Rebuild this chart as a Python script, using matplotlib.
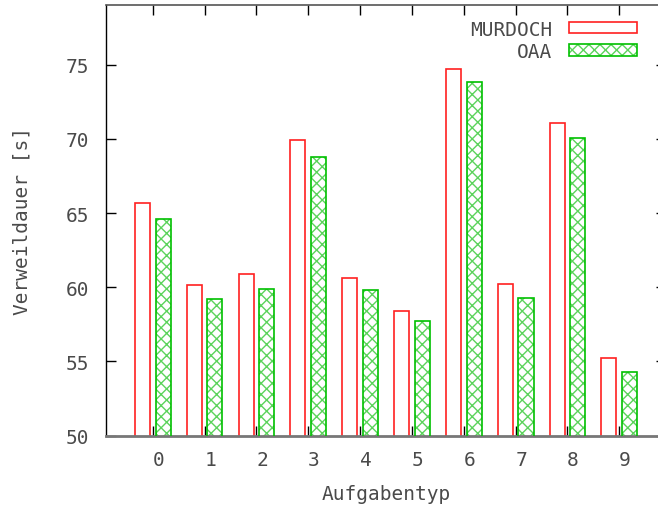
import matplotlib
matplotlib.use("Agg")
import matplotlib.pyplot as plt
import matplotlib.transforms as mtransforms
from matplotlib.patches import Patch
from matplotlib.legend_handler import HandlerTuple
import numpy as np

categories = ["0", "1", "2", "3", "4", "5", "6", "7", "8", "9"]
murdoch = [65.66, 60.18, 60.92, 69.91, 60.61, 58.38, 74.71, 60.24, 71.09, 55.26]
oaa = [64.62, 59.21, 59.89, 68.80, 59.82, 57.71, 73.84, 59.28, 70.04, 54.31]
series_names = ["MURDOCH", "OAA"]
yticks = [50, 55, 60, 65, 70, 75]

FONT = "DejaVu Sans Mono"
TXT = "#4a4a4a"
RED = "#ff2020"
GREEN = "#00c000"
HATCH = "#5cd35c"

plt.rcParams["font.family"] = [FONT]
plt.rcParams["hatch.linewidth"] = 1.0

W, H = 658, 510
fig = plt.figure(figsize=(W / 100, H / 100), dpi=100)
left_px, right_px, top_px, bottom_px = 106.3, 666.0, 5.7, 436.7
ax = fig.add_axes([left_px / W, 1 - bottom_px / H,
                   (right_px - left_px) / W, (bottom_px - top_px) / H])

x = np.arange(len(categories))
bw = 0.29
off = 0.2

ax.bar(x - off, murdoch, bw, facecolor="white", edgecolor=RED,
       linewidth=1.2, zorder=2)
ax.bar(x + off, oaa, bw, facecolor="white", edgecolor=HATCH, hatch="xxx",
       linewidth=0, zorder=2)
ax.bar(x + off, oaa, bw, facecolor="none", edgecolor=GREEN,
       linewidth=1.2, zorder=3)

ax.set_xlim(-0.895, 9.9)
ax.set_ylim(50, 79.04)

ax.set_xticks(x)
ax.set_xticklabels(categories)
ax.set_yticks(yticks)
ax.set_yticklabels([str(v) for v in yticks])

fs = 14
ax.tick_params(axis="both", direction="in", length=7.2, width=1.0,
               color="black", labelsize=fs, labelcolor=TXT,
               top=True, right=True, zorder=5)
ax.tick_params(axis="y", pad=12.2)
ax.tick_params(axis="x", pad=10.0)

shift = mtransforms.ScaledTranslation(5.6 / 100, 0, fig.dpi_scale_trans)
for lbl in ax.get_xticklabels():
    lbl.set_transform(lbl.get_transform() + shift)

ax.spines["left"].set_color("black")
ax.spines["left"].set_linewidth(1.0)
ax.spines["top"].set_color("#555555")
ax.spines["top"].set_linewidth(1.2)
ax.spines["bottom"].set_color("#777777")
ax.spines["bottom"].set_linewidth(2.0)
ax.spines["right"].set_color("#555555")

ax.set_xlabel("Aufgabentyp", fontsize=fs, color=TXT, labelpad=11)
ax.set_ylabel("Verweildauer [s]", fontsize=fs, color=TXT, labelpad=25)

h_red = Patch(facecolor="white", edgecolor=RED, linewidth=1.2)
h_g1 = Patch(facecolor="white", edgecolor=HATCH, hatch="xxx", linewidth=0)
h_g2 = Patch(facecolor="none", edgecolor=GREEN, linewidth=1.2)
leg = ax.legend([h_red, (h_g1, h_g2)], series_names,
                handler_map={tuple: HandlerTuple(ndivide=1, pad=0)},
                loc="upper right",
                bbox_to_anchor=(637.3 / W, 1 - 20.5 / H),
                bbox_transform=fig.transFigure,
                frameon=False, markerfirst=False, fontsize=fs,
                handlelength=3.5, handleheight=0.55, handletextpad=0.86,
                labelspacing=0.16, borderpad=0, borderaxespad=0)
for t in leg.get_texts():
    t.set_color(TXT)

fig.savefig("out.png", dpi=100)
